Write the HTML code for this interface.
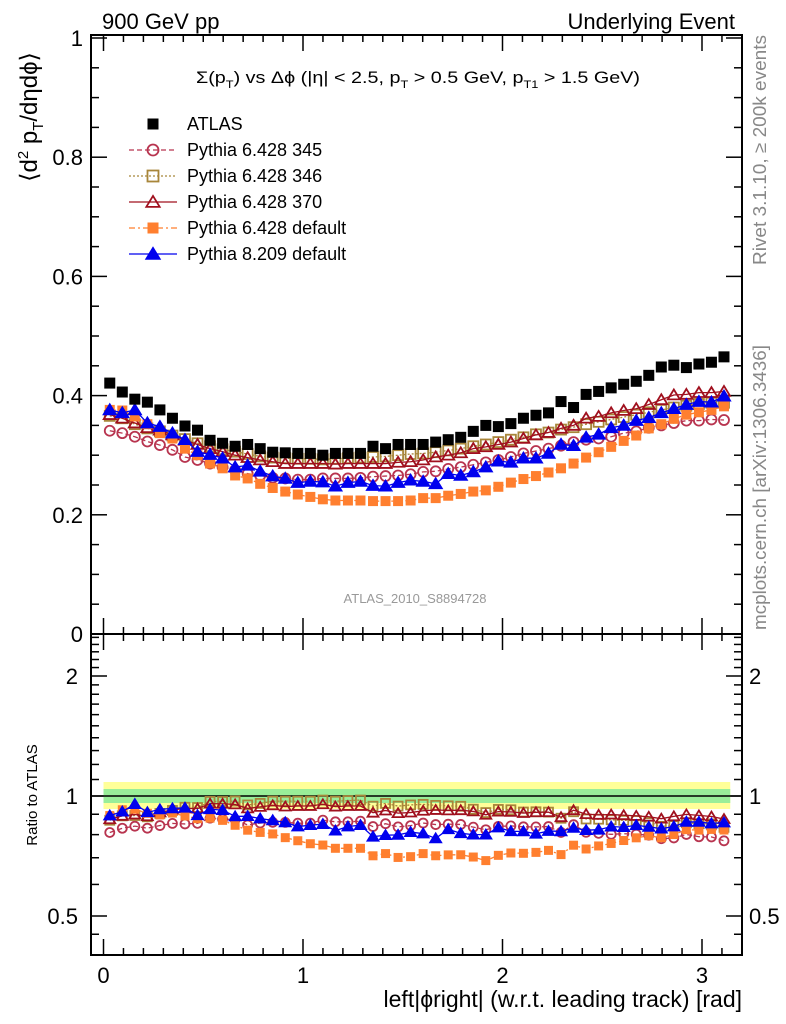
<!DOCTYPE html>
<html><head><meta charset="utf-8"><style>
html,body{margin:0;padding:0;background:#fff}
svg{display:block;font-family:"Liberation Sans",sans-serif}
</style></head><body>
<svg id="chart" width="786" height="1024" viewBox="0 0 786 1024" xmlns="http://www.w3.org/2000/svg">
<text x="102" y="29" font-size="22">900 GeV pp</text>
<text x="735" y="29" font-size="22" text-anchor="end">Underlying Event</text>
<text x="196" y="83" font-size="17" textLength="444" lengthAdjust="spacingAndGlyphs">Σ(p<tspan font-size="11" dy="5">T</tspan><tspan dy="-5">) vs Δϕ (|η| &lt; 2.5, p</tspan><tspan font-size="11" dy="5">T</tspan><tspan dy="-5"> &gt; 0.5 GeV, p</tspan><tspan font-size="11" dy="5">T1</tspan><tspan dy="-5"> &gt; 1.5 GeV)</tspan></text>
<text transform="translate(37,117) rotate(-90)" font-size="24" text-anchor="middle">⟨d<tspan font-size="15" dy="-9">2</tspan><tspan dy="9"> p</tspan><tspan font-size="15" dy="6">T</tspan><tspan dy="-6">/dηdϕ⟩</tspan></text>
<text transform="translate(37,795) rotate(-90)" font-size="15" text-anchor="middle">Ratio to ATLAS</text>
<text x="742" y="1007" font-size="23" text-anchor="end">left|ϕright| (w.r.t. leading track) [rad]</text>
<text transform="translate(766,265) rotate(-90)" font-size="18" fill="#888" textLength="230" lengthAdjust="spacingAndGlyphs">Rivet 3.1.10, ≥ 200k events</text>
<text transform="translate(766,630) rotate(-90)" font-size="18" fill="#888" textLength="285" lengthAdjust="spacingAndGlyphs">mcplots.cern.ch [arXiv:1306.3436]</text>
<text x="415" y="603" font-size="13" fill="#999" text-anchor="middle">ATLAS_2010_S8894728</text>
<g id="axes"></g>
<g id="band"></g>
<g id="main"></g>
<g id="ratio"></g>
<g id="legend"></g>
</svg>
<script>
const phiCenters = [];
const binCount = 50;
const atlas = [0.421,0.406,0.394,0.389,0.376,0.362,0.349,0.342,0.325,0.320,0.315,0.318,0.311,0.305,0.304,0.303,0.303,0.300,0.303,0.303,0.303,0.315,0.311,0.318,0.318,
0.318,0.322,0.326,0.330,0.340,0.350,0.348,0.353,0.362,0.367,0.371,0.390,0.380,0.402,0.407,0.413,0.419,0.424,0.434,0.448,0.451,0.447,0.453,0.456,0.465];
const py345 = [0.341,0.337,0.331,0.323,0.317,0.309,0.297,0.292,0.286,0.280,0.275,0.269,0.266,0.262,0.261,0.259,0.259,0.261,0.261,0.261,0.262,0.264,0.265,0.266,0.268,
0.272,0.273,0.277,0.280,0.284,0.288,0.292,0.297,0.303,0.307,0.311,0.316,0.322,0.326,0.328,0.331,0.337,0.340,0.346,0.350,0.354,0.358,0.358,0.360,0.359];
const py346 = [0.366,0.362,0.352,0.345,0.340,0.333,0.327,0.320,0.315,0.310,0.306,0.302,0.298,0.296,0.295,0.294,0.294,0.293,0.294,0.295,0.296,0.297,0.298,0.300,0.302,
0.303,0.305,0.308,0.311,0.315,0.318,0.322,0.326,0.330,0.335,0.338,0.343,0.347,0.352,0.356,0.360,0.364,0.368,0.372,0.376,0.380,0.383,0.386,0.388,0.388];
const py370 = [0.368,0.362,0.354,0.346,0.342,0.334,0.325,0.318,0.311,0.306,0.300,0.296,0.292,0.289,0.286,0.286,0.286,0.286,0.285,0.286,0.286,0.286,0.286,0.288,0.289,
0.292,0.297,0.300,0.304,0.311,0.314,0.318,0.322,0.328,0.334,0.338,0.345,0.350,0.362,0.365,0.371,0.375,0.378,0.385,0.393,0.401,0.402,0.405,0.405,0.407];
const pyDef = [0.376,0.375,0.365,0.352,0.337,0.328,0.311,0.300,0.286,0.278,0.266,0.261,0.252,0.245,0.239,0.234,0.230,0.226,0.224,0.224,0.224,0.223,0.223,0.223,0.224,
0.228,0.228,0.232,0.235,0.239,0.241,0.247,0.254,0.260,0.265,0.271,0.278,0.286,0.296,0.305,0.314,0.324,0.333,0.345,0.352,0.361,0.368,0.372,0.376,0.382];
const py8 = [0.376,0.371,0.376,0.354,0.348,0.337,0.326,0.306,0.301,0.295,0.280,0.283,0.273,0.265,0.261,0.254,0.256,0.255,0.248,0.254,0.256,0.249,0.248,0.254,0.258,
0.256,0.252,0.269,0.266,0.272,0.280,0.290,0.288,0.295,0.295,0.303,0.318,0.316,0.330,0.335,0.346,0.350,0.358,0.363,0.371,0.378,0.385,0.390,0.389,0.399];
const xTicks = [0,1,2,3];
const yTicksMain = [0,0.2,0.4,0.6,0.8,1];
const yTickLabels = ["0","0.2","0.4","0.6","0.8","1"];
const rTicks = [0.5,1,2];
const rTickLabels = ["0.5","1","2"];
for(let i=0;i<binCount;i++) phiCenters.push((i+0.5)*Math.PI/binCount);

const NS="http://www.w3.org/2000/svg";
const L=91,R=742,T=35,MB=634,RB=955;
const xs=v=>103.5+v*199.5;
const ym=v=>634-v*596;
const yr=v=>796-120*Math.log2(v);
function mk(tag,parent,attrs){const e=document.createElementNS(NS,tag);for(const k in attrs)e.setAttribute(k,attrs[k]);parent.appendChild(e);return e;}

const axes=document.getElementById('axes');
let e;
e=mk('rect',axes,{x:L,y:T,width:R-L,height:MB-T,fill:'none',stroke:'#000','stroke-width':2});


e=mk('rect',axes,{x:L,y:MB,width:R-L,height:RB-MB,fill:'none',stroke:'#000','stroke-width':2});


for(let k=0;k<=31;k++){const v=k/10;const x=xs(v);const major=(k%10===0);const len=major?16:7;
 [[T,1],[MB,-1],[MB,1],[RB,-1]].forEach(([y0,d])=>{e=mk('line',axes,{x1:x,x2:x,y1:y0,y2:y0+d*len,stroke:'#000','stroke-width':1.5});
 
 });}
xTicks.forEach(v=>{e=mk('text',axes,{x:xs(v),y:983,'font-size':22,'text-anchor':'middle'});e.textContent=v;
 
 });
for(let k=0;k<=20;k++){const v=k*0.05;const y=ym(v);const major=(k%4===0);const len=major?16:8;
 [[L,1],[R,-1]].forEach(([x0,d])=>{e=mk('line',axes,{x1:x0,x2:x0+d*len,y1:y,y2:y,stroke:'#000','stroke-width':1.5});
 
 });}
yTicksMain.forEach((v,i)=>{e=mk('text',axes,{x:83,y:ym(v)+8,'font-size':22,'text-anchor':'end'});e.textContent=yTickLabels[i];
 
 });
const rMinor=[0.45,0.6,0.7,0.8,0.9,1.1,1.2,1.3,1.4,1.5,1.6,1.7,1.8,1.9,2.1,2.2,2.3,2.4,2.5];
rMinor.forEach(v=>{const y=yr(v);if(y<MB+2||y>RB-2)return;[[L,1],[R,-1]].forEach(([x0,d])=>{e=mk('line',axes,{x1:x0,x2:x0+d*8,y1:y,y2:y,stroke:'#000','stroke-width':1.5});
 
 });});
rTicks.forEach((v,i)=>{const y=yr(v);[[L,1],[R,-1]].forEach(([x0,d])=>{e=mk('line',axes,{x1:x0,x2:x0+d*16,y1:y,y2:y,stroke:'#000','stroke-width':1.5});
 
 });
 e=mk('text',axes,{x:78,y:y+8,'font-size':22,'text-anchor':'end'});e.textContent=rTickLabels[i];
 
 
 e=mk('text',axes,{x:749,y:y+8,'font-size':22});e.textContent=rTickLabels[i];
 
 });

const band=document.getElementById('band');
e=mk('rect',band,{x:xs(0),y:782,width:xs(Math.PI)-xs(0),height:27,fill:'#ffff99'});


e=mk('rect',band,{x:xs(0),y:789,width:xs(Math.PI)-xs(0),height:14,fill:'#99ee99'});


e=mk('line',band,{x1:L,x2:R,y1:yr(1),y2:yr(1),stroke:'#000','stroke-width':1.5});



const series=[
 {name:'Pythia 6.428 345',key:'py345',data:py345,color:'#b8344f',dash:'5,3',marker:'circle'},
 {name:'Pythia 6.428 346',key:'py346',data:py346,color:'#a8863a',dash:'2,2',marker:'osquare'},
 {name:'Pythia 6.428 370',key:'py370',data:py370,color:'#a0101e',dash:'',marker:'otri'},
 {name:'Pythia 6.428 default',key:'pydefault',data:pyDef,color:'#ff7f2f',dash:'6,3,2,3',marker:'square'},
 {name:'Pythia 8.209 default',key:'py8',data:py8,color:'#0000ee',dash:'',marker:'tri'}
];
function marker(g,type,x,y,color,s){let m;
 if(type==='circle')m=mk('circle',g,{cx:x,cy:y,r:s*0.5,fill:'none',stroke:color,'stroke-width':1.8});
 else if(type==='osquare')m=mk('rect',g,{x:x-s/2,y:y-s/2,width:s,height:s,fill:'none',stroke:color,'stroke-width':1.8});
 else if(type==='square')m=mk('rect',g,{x:x-s/2,y:y-s/2,width:s,height:s,fill:color});
 else {const h=s*0.55;m=mk('polygon',g,{points:`${x},${y-h} ${x+h*1.1},${y+h*0.8} ${x-h*1.1},${y+h*0.8}`,fill:type==='tri'?color:'none',stroke:color,'stroke-width':1.8});}
 return m;}
const main=document.getElementById('main'),ratio=document.getElementById('ratio');
series.forEach(s=>{
 const gm=mk('g',main,{});
 
 
 const pts=s.data.map((v,i)=>xs(phiCenters[i])+','+ym(v)).join(' ');
 e=mk('polyline',gm,{points:pts,fill:'none',stroke:s.color,'stroke-width':1.3,'stroke-dasharray':s.dash});
 
 
 s.data.forEach((v,i)=>{e=marker(gm,s.marker,xs(phiCenters[i]),ym(v),s.color,10);
  
  });
 const gr=mk('g',ratio,{});
 
 
 const rp=s.data.map((v,i)=>xs(phiCenters[i])+','+yr(v/atlas[i])).join(' ');
 e=mk('polyline',gr,{points:rp,fill:'none',stroke:s.color,'stroke-width':1.3,'stroke-dasharray':s.dash});
 
 
 s.data.forEach((v,i)=>{e=marker(gr,s.marker,xs(phiCenters[i]),yr(v/atlas[i]),s.color,9);
  
  });
});
const ga=mk('g',main,{});


atlas.forEach((v,i)=>{e=marker(ga,'square',xs(phiCenters[i]),ym(v),'#000',11);
 
 });

const lg=document.getElementById('legend');
const ly0=124,ldy=26;
e=marker(lg,'square',153,ly0,'#000',11);


e=mk('text',lg,{x:187,y:ly0+6,'font-size':18});e.textContent='ATLAS';


series.forEach((s,i)=>{const y=ly0+ldy*(i+1);
 e=mk('line',lg,{x1:129,x2:177,y1:y,y2:y,stroke:s.color,'stroke-width':1.3,'stroke-dasharray':s.dash});
 
 
 e=marker(lg,s.marker,153,y,s.color,11);
 
 
 e=mk('text',lg,{x:187,y:y+6,'font-size':18});e.textContent=s.name;
 
 
});
</script>
</body></html>
